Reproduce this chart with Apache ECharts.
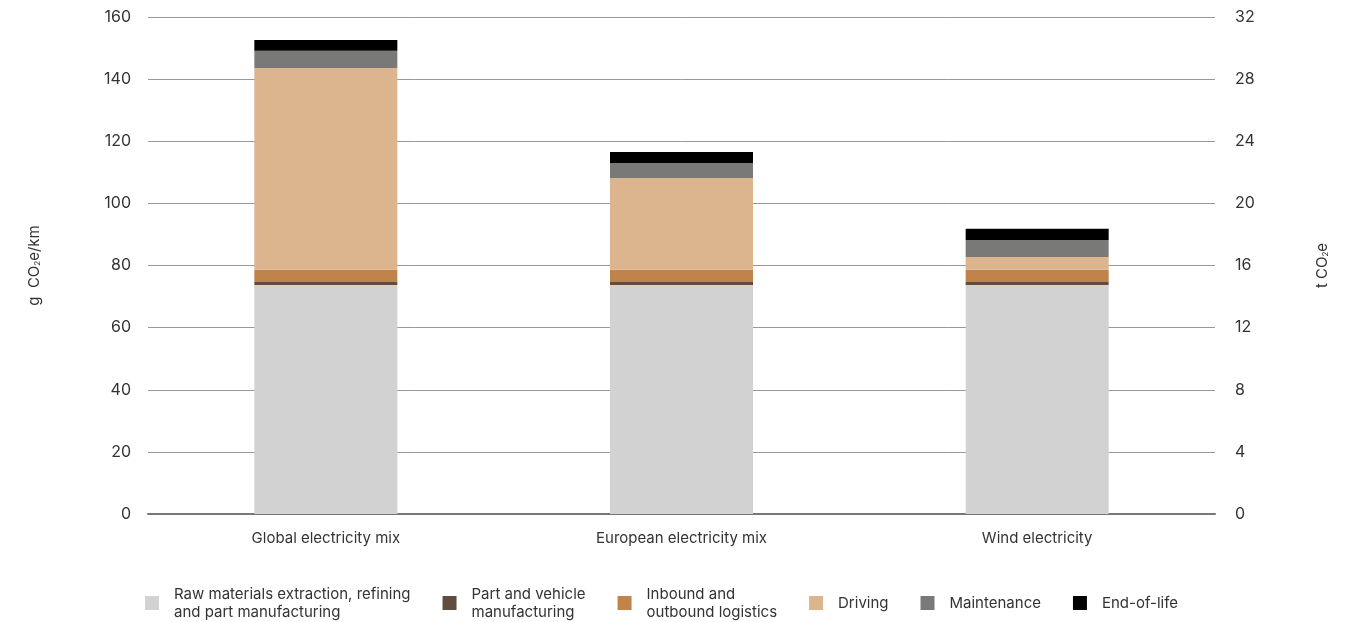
<!DOCTYPE html>
<html><head><meta charset="utf-8">
<script src="https://cdn.jsdelivr.net/npm/echarts@6/dist/echarts.min.js"></script>
<style>html,body{margin:0;padding:0;background:#fff}#c{width:1357px;height:622px}</style>
</head><body><div id="c"></div>
<script>
const categories = ['Global electricity mix', 'European electricity mix', 'Wind electricity'];
const seriesNames = ['Raw materials extraction, refining\nand part manufacturing', 'Part and vehicle\nmanufacturing', 'Inbound and\noutbound logistics', 'Driving', 'Maintenance', 'End-of-life'];
const rawMaterials = [73.7, 73.7, 73.7];
const partVehicle = [1.0, 1.0, 1.0];
const logistics = [3.9, 3.9, 3.9];
const driving = [65.0, 29.6, 4.1];
const maintenance = [5.5, 4.8, 5.5];
const endOfLife = [3.5, 3.5, 3.6];
const leftTicks = [0, 160, 20];
const rightTicks = [0, 32, 4];
const colors = ['#d2d2d2', '#604d40', '#c0834a', '#dcb48d', '#797977', '#000000'];
const values = [rawMaterials, partVehicle, logistics, driving, maintenance, endOfLife];

const FONT = 'Inter';
const subRich = {s: {fontSize: 8, verticalAlign: 'bottom', padding: [7, 0, 0, 0], color: '#333', fontFamily: FONT}};
const chart = echarts.init(document.getElementById('c'));
chart.setOption({
  animation: false,
  textStyle: {fontFamily: FONT},
  grid: {left: 148, right: 142, top: 17, bottom: 108},
  legend: {
    top: 580, left: 140, itemGap: 32, itemWidth: 14, itemHeight: 14, icon: 'rect',
    textStyle: {fontFamily: FONT, fontSize: 15, color: '#333', lineHeight: 18, padding: [0, 0, 0, 10]},
    data: seriesNames
  },
  xAxis: {
    type: 'category', data: categories,
    axisLine: {lineStyle: {color: '#777', width: 2}},
    axisTick: {show: false},
    axisLabel: {color: '#333', fontSize: 15, margin: 17, fontFamily: FONT}
  },
  yAxis: [{
    type: 'value', min: leftTicks[0], max: leftTicks[1], interval: leftTicks[2],
    name: 'g  CO{s|2}e/km', nameLocation: 'middle', nameGap: 106, nameRotate: 90,
    nameTextStyle: {color: '#333', fontSize: 15, fontFamily: FONT, rich: subRich},
    axisLabel: {color: '#333', fontSize: 16, margin: 17, fontFamily: FONT},
    axisLine: {show: false}, axisTick: {show: false},
    splitLine: {lineStyle: {color: '#999', width: 1}}
  }, {
    type: 'value', position: 'right', min: rightTicks[0], max: rightTicks[1], interval: rightTicks[2],
    name: 't CO{s|2}e', nameLocation: 'middle', nameGap: 100, nameRotate: 90,
    nameTextStyle: {color: '#333', fontSize: 15, fontFamily: FONT, rich: subRich},
    axisLabel: {color: '#333', fontSize: 16, margin: 20, fontFamily: FONT},
    axisLine: {show: false}, axisTick: {show: false}, splitLine: {show: false}
  }],
  series: values.map((v, i) => ({
    name: seriesNames[i], type: 'bar', stack: 'total', data: v,
    barWidth: 143, itemStyle: {color: colors[i]}
  }))
});
</script></body></html>
